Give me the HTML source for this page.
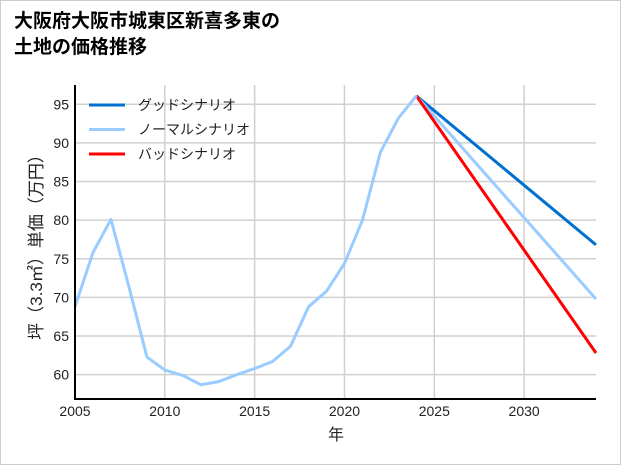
<!DOCTYPE html>
<html><head><meta charset="utf-8"><style>
body{margin:0;background:#fff;}
#frame{position:absolute;left:0;top:0;width:619px;height:463px;border:1px solid #ccc;background:#fff;}
#title{position:absolute;left:14px;top:9px;font:bold 19px/26px "Liberation Sans","Noto Sans CJK JP",sans-serif;color:#000;}
svg{position:absolute;left:0;top:0;}
text{font-family:"Liberation Sans","Noto Sans CJK JP",sans-serif;}
</style></head><body>
<div id="frame"></div>
<div id="title">大阪府大阪市城東区新喜多東の<br>土地の価格推移</div>
<svg id="c" width="621" height="465"></svg>
<script>
const years=[2005,2006,2007,2008,2009,2010,2011,2012,2013,2014,2015,2016,2017,2018,2019,2020,2021,2022,2023,2024];
const normalHist=[68.8,75.8,80.1,71.4,62.3,60.6,59.9,58.7,59.1,60.0,60.8,61.7,63.7,68.8,70.8,74.4,80.0,88.8,93.2,96.1];
const futureYears=[2024,2034];
const goodVals=[96.1,76.8];
const normalVals=[96.1,69.8];
const badVals=[96.1,62.8];
const xTicks=[2005,2010,2015,2020,2025,2030];
const yTicks=[60,65,70,75,80,85,90,95];
const legendLabels=["グッドシナリオ","ノーマルシナリオ","バッドシナリオ"];
const X0=75,X1=596,Y0=399,Y1=85;
const xmin=2005,xmax=2034,ymin=56.85,ymax=97.5;
const sx=v=>X0+(v-xmin)/(xmax-xmin)*(X1-X0);
const sy=v=>Y0-(v-ymin)/(ymax-ymin)*(Y0-Y1);
const svg=document.getElementById('c');const NS='http://www.w3.org/2000/svg';
function mk(t,a){const e=document.createElementNS(NS,t);for(const k in a)e.setAttribute(k,a[k]);svg.appendChild(e);return e;}
xTicks.forEach(t=>{const l=mk('line',{x1:sx(t),x2:sx(t),y1:Y1,y2:Y0,stroke:'#d0d0d0','stroke-width':1.5});


const tx=mk('text',{x:sx(t),y:Y0+17,'text-anchor':'middle','font-size':14,fill:'#222'});tx.textContent=t;

});
yTicks.forEach(t=>{const l=mk('line',{x1:X0,x2:X1,y1:sy(t),y2:sy(t),stroke:'#d0d0d0','stroke-width':1.5});


const tx=mk('text',{x:X0-6,y:sy(t)+5,'text-anchor':'end','font-size':14,fill:'#222'});tx.textContent=t;

});
function line(xs,ys,c,name){const p=mk('polyline',{points:xs.map((x,i)=>sx(x)+','+sy(ys[i])).join(' '),fill:'none',stroke:c,'stroke-width':3,'stroke-linejoin':'round'});

}
line(futureYears,goodVals,'#0070d0','good-scenario-line');
line(futureYears,normalVals,'#99ccff','normal-scenario-line');
line(futureYears,badVals,'#ff0000','bad-scenario-line');
line(years,normalHist,'#99ccff','historical-line');
const ax=mk('polyline',{points:`${X0},${Y1} ${X0},${Y0} ${X1},${Y0}`,fill:'none',stroke:'#000','stroke-width':2});


const cols=['#0070d0','#99ccff','#ff0000'];
legendLabels.forEach((s,i)=>{const y=105+i*24.5;
const l=mk('line',{x1:89,x2:125,y1:y,y2:y,stroke:cols[i],'stroke-width':3});


const t=mk('text',{x:138,y:y+5,'font-size':14,fill:'#222'});t.textContent=s;

});
const xl=mk('text',{x:336,y:440,'text-anchor':'middle','font-size':16,fill:'#222'});xl.textContent='年';


const yl=mk('text',{x:0,y:0,'text-anchor':'middle','font-size':17,fill:'#222',transform:'translate(42,243) rotate(-90)'});yl.textContent='坪（3.3㎡）単価（万円）';


</script>
</body></html>
